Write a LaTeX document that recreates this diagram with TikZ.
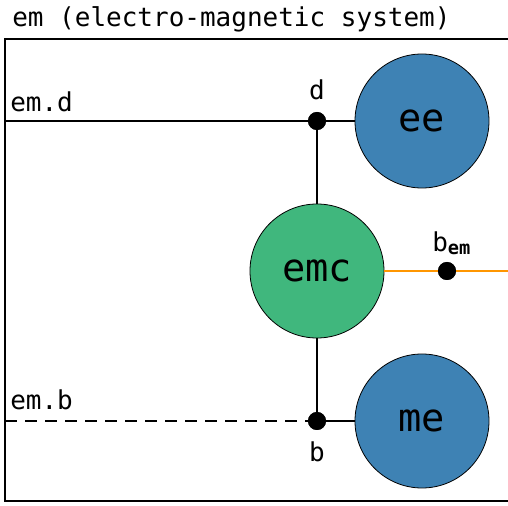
\documentclass[tikz,border=0pt]{standalone}
\usepackage{fontspec}
\setmonofont{DejaVu Sans Mono}
\usetikzlibrary{positioning,calc}

\definecolor{eeblue}{RGB}{62,130,180}
\definecolor{emcgreen}{RGB}{64,183,125}
\definecolor{busorange}{RGB}{255,150,0}

\begin{document}
\begin{tikzpicture}[
    x=0.75pt, y=-0.75pt,
    font=\ttfamily\fontsize{19.5}{23}\selectfont,
    wire/.style={line width=1.5pt, black},
    buswire/.style={line width=1.5pt, busorange},
    subsys/.style={
        circle, draw=black, line width=0.6pt, minimum size=100.5pt,
        inner sep=0pt, font=\ttfamily\fontsize{29}{32}\selectfont
    },
    port/.style={circle, fill=black, minimum size=13.5pt, inner sep=0pt},
    portlabel/.style={inner sep=0pt, anchor=base}
]
\useasboundingbox (0,0) rectangle (508,506);

% System boundary and title
\node[anchor=base west, inner sep=0pt] (title) at (12,27) {em (electro-magnetic system)};
\draw[wire] (510,39) -- (5,39) -- (5,501) -- (510,501);

% Subsystems
\node[subsys, fill=eeblue] (ee) at (422,121) {ee};
\node[subsys, fill=emcgreen] (emc) at (317,271) {emc};
\node[subsys, fill=eeblue] (me) at (422,421) {me};

% Ports
\node[port] (d) at (317,121) {};
\node[port] (b) at (317,421) {};
\node[port] (bem) at (447,271) {};
\coordinate (emd_in) at (5,121);
\coordinate (emb_in) at (5,421);
\coordinate (bem_out) at (510,271);

% Port labels
\node[portlabel] (d_lbl) at (317,100) {d};
\node[portlabel] (b_lbl) at (317,462) {b};
\node[portlabel, anchor=base west] (bem_lbl) at (432,252)
    {b\raisebox{-2pt}{\fontsize{14}{16}\selectfont\bfseries em}};
\node[portlabel, anchor=base west] (emd_lbl) at (10,112) {em.d};
\node[portlabel, anchor=base west] (emb_lbl) at (10,410) {em.b};

% ------------------------------- Wires ---------------------------------------
\draw[wire] (emd_in) -- (d.center);
\draw[wire] (d.center) -- (ee.west);
\draw[wire] (d.center) -- (emc.north);
\draw[wire] (emc.south) -- (b.center);
\draw[wire] (b.center) -- (me.west);
\draw[wire, dashed, dash pattern=on 9pt off 6pt] (emb_in) -- (b.center);
\draw[buswire] (emc.east) -- (bem.center);
\draw[buswire] (bem.center) -- (bem_out);

% redraw ports on top of wires
\node[port] at (d) {};
\node[port] at (b) {};
\node[port] at (bem) {};

\end{tikzpicture}
\end{document}
